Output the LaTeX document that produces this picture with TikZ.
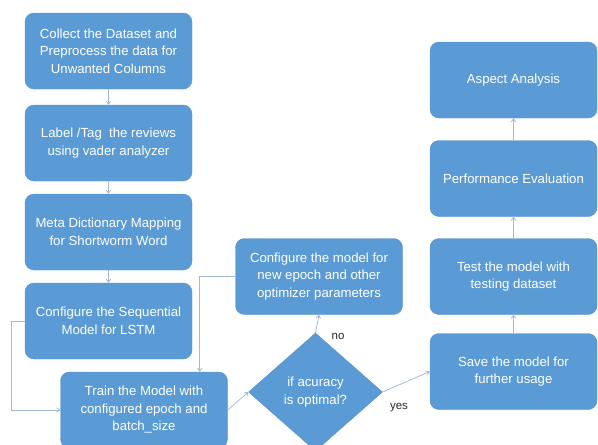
\documentclass[tikz,border=0pt]{standalone}
\usepackage{fontspec}
\setmainfont{Liberation Sans}
\usepackage{tikz}
\usetikzlibrary{arrows.meta,positioning,shapes.geometric}
\usepackage{xcolor}
\definecolor{stepblue}{HTML}{5B9BD5}
\definecolor{stepedge}{HTML}{5590CC}
\definecolor{flowgray}{HTML}{A4B8D6}
\tikzset{
  stepbox/.style={draw=stepedge, fill=stepblue, rounded corners=9pt,
    minimum width=167pt, minimum height=76pt, text=white, align=center,
    font=\fontsize{13.2}{17.5}\selectfont, inner sep=2pt},
  decision/.style={diamond, draw=stepedge, fill=stepblue, text=white,
    minimum width=134pt, minimum height=118pt, inner sep=0pt, align=center,
    font=\fontsize{13.2}{17.5}\selectfont},
  flow/.style={draw=flowgray, line width=0.8pt,
    -{Straight Barb[length=3pt,width=4.5pt]}},
  lbl/.style={font=\fontsize{11.5}{14}\selectfont, text=black!85}
}
\begin{document}
\begin{tikzpicture}[x=1pt, y=-1pt]
  \useasboundingbox (0,0) rectangle (598,445);

  %% Left column: data preparation
  \node[stepbox] (collect) at (108.5,51)
    {Collect the Dataset and\\Preprocess the data for\\Unwanted Columns};
  \node[stepbox] (label) at (108.5,143)
    {Label /Tag\ \ the reviews\\using vader analyzer};
  \node[stepbox] (mapping) at (108.5,232)
    {Meta Dictionary Mapping\\for Shortworm Word};
  \node[stepbox] (lstm) at (108.5,321)
    {Configure the Sequential\\Model for LSTM};

  %% Training loop
  \node[stepbox] (train) at (144,410)
    {Train the Model with\\configured epoch and\\batch\_size};
  \node[decision] (check) at (315.5,392) {if acuracy\\is optimal?};
  \node[stepbox] (config) at (319,276.5)
    {Configure the model for\\new epoch and other\\optimizer parameters};

  %% Right column: evaluation
  \node[stepbox] (save) at (513.5,371.5) {Save the model for\\further usage};
  \node[stepbox] (test) at (513.5,276.5) {Test the model with\\testing dataset};
  \node[stepbox] (perf) at (513.5,178.5) {Performance Evaluation};
  \node[stepbox] (aspect) at (513.5,80) {Aspect Analysis};

  %% Connectors
  \draw[flow] (collect) -- (label);
  \draw[flow] (label) -- (mapping);
  \draw[flow] (mapping) -- (lstm);
  \draw[flow] (lstm.west) -- ++(-13,0) |- (train.west);
  \draw[flow] (train.east) -- (check.west);
  \draw[flow] (check.north) -- (config.south);
  \draw[flow] (config.west) -| ([xshift=-28pt]train.north east);
  \draw[flow] (check.east) -- (save.west);
  \draw[flow] (save) -- (test);
  \draw[flow] (test) -- (perf);
  \draw[flow] (perf) -- (aspect);

  %% Branch labels
  \node[lbl] (no) at (338,336) {no};
  \node[lbl] (yes) at (399,408) {yes};
\end{tikzpicture}
\end{document}
